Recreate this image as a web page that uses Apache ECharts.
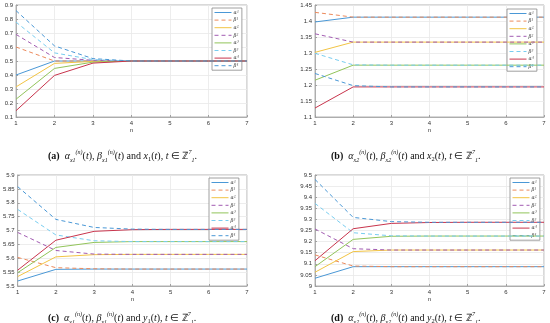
<!DOCTYPE html>
<html><head><meta charset="utf-8">
<script src="https://cdn.jsdelivr.net/npm/echarts@6/dist/echarts.min.js"></script>
<style>html,body{margin:0;padding:0;background:#fff}#c{width:550px;height:323px}</style>
</head><body><div id="c"></div>
<script>
const nVals = [1,2,3,4,5,6,7];
const legendNames = ['α¹','β¹','α²','β²','α³','β³','α⁴','β⁴'];

const aAlpha1 = [0.40,0.500,0.500,0.500,0.500,0.500,0.500];
const aBeta1  = [0.60,0.500,0.500,0.500,0.500,0.500,0.500];
const aAlpha2 = [0.315,0.483,0.497,0.500,0.500,0.500,0.500];
const aBeta2  = [0.69,0.525,0.505,0.500,0.500,0.500,0.500];
const aAlpha3 = [0.227,0.447,0.492,0.500,0.500,0.500,0.500];
const aBeta3  = [0.778,0.558,0.510,0.500,0.500,0.500,0.500];
const aAlpha4 = [0.145,0.397,0.485,0.500,0.500,0.500,0.500];
const aBeta4  = [0.86,0.608,0.517,0.500,0.500,0.500,0.500];

const bAlpha1 = [1.397,1.412,1.412,1.412,1.412,1.412,1.412];
const bBeta1  = [1.427,1.412,1.412,1.412,1.412,1.412,1.412];
const bAlpha2 = [1.302,1.334,1.334,1.334,1.334,1.334,1.334];
const bBeta2  = [1.360,1.334,1.334,1.334,1.334,1.334,1.334];
const bAlpha3 = [1.215,1.262,1.262,1.262,1.262,1.262,1.262];
const bBeta3  = [1.299,1.263,1.262,1.262,1.262,1.262,1.262];
const bAlpha4 = [1.128,1.194,1.194,1.194,1.194,1.194,1.194];
const bBeta4  = [1.236,1.198,1.194,1.194,1.194,1.194,1.194];

const cAlpha1 = [5.518,5.560,5.561,5.561,5.561,5.561,5.561];
const cBeta1  = [5.603,5.566,5.562,5.561,5.561,5.561,5.561];
const cAlpha2 = [5.534,5.605,5.613,5.614,5.614,5.614,5.614];
const cBeta2  = [5.693,5.628,5.615,5.614,5.614,5.614,5.614];
const cAlpha3 = [5.548,5.639,5.657,5.660,5.660,5.660,5.660];
const cBeta3  = [5.776,5.684,5.663,5.660,5.660,5.660,5.660];
const cAlpha4 = [5.557,5.665,5.697,5.703,5.704,5.704,5.704];
const cBeta4  = [5.858,5.740,5.711,5.705,5.704,5.704,5.704];

const dAlpha1 = [9.035,9.087,9.087,9.087,9.087,9.087,9.087];
const dBeta1  = [9.140,9.090,9.087,9.087,9.087,9.087,9.087];
const dAlpha2 = [9.062,9.155,9.162,9.162,9.162,9.162,9.162];
const dBeta2  = [9.257,9.168,9.162,9.162,9.162,9.162,9.162];
const dAlpha3 = [9.087,9.210,9.224,9.225,9.225,9.225,9.225];
const dBeta3  = [9.372,9.240,9.226,9.225,9.225,9.225,9.225];
const dAlpha4 = [9.114,9.258,9.282,9.286,9.287,9.287,9.287];
const dBeta4  = [9.480,9.309,9.290,9.287,9.287,9.287,9.287];

const yRanges = [[0.1,0.9,0.1],[1.1,1.45,0.05],[5.5,5.9,0.05],[9.0,9.5,0.05]];
const panels = [
  [aAlpha1,aBeta1,aAlpha2,aBeta2,aAlpha3,aBeta3,aAlpha4,aBeta4],
  [bAlpha1,bBeta1,bAlpha2,bBeta2,bAlpha3,bBeta3,bAlpha4,bBeta4],
  [cAlpha1,cBeta1,cAlpha2,cBeta2,cAlpha3,cBeta3,cAlpha4,cBeta4],
  [dAlpha1,dBeta1,dAlpha2,dBeta2,dAlpha3,dBeta3,dAlpha4,dBeta4]
];

const colors = ['#4a98d6','#ec8a5c','#f2c444','#a25cb2','#92c45a','#78cdf0','#c8344c','#4a98d6'];
const grids = [
  {left:16, top:5, width:231, height:112},
  {left:315, top:5, width:229, height:112},
  {left:16, top:175, width:231, height:111},
  {left:315, top:175, width:229, height:111}
];
const legendPos = [{left:212, top:8},{left:507, top:9},{left:209, top:178},{left:510, top:178}];

const font = 'Liberation Sans';
const option = {
  animation:false,
  grid: grids.map(g => Object.assign({show:true, borderColor:'#a0a0a0', borderWidth:0.8, backgroundColor:'#fff', containLabel:false}, g)),
  xAxis: grids.map((g,i) => ({
    type:'value', gridIndex:i, min:1, max:7, interval:1,
    name:'n', nameLocation:'middle', nameGap:8,
    nameTextStyle:{fontSize:6, color:'#333', fontFamily:font},
    axisLine:{show:true, lineStyle:{color:'#a0a0a0', width:0.8}},
    axisTick:{show:true, inside:true, length:2, lineStyle:{color:'#a0a0a0'}},
    axisLabel:{fontSize:6, color:'#333', margin:3, fontFamily:font},
    splitLine:{show:true, lineStyle:{color:'#e8e8e8', width:0.8}}
  })),
  yAxis: grids.map((g,i) => ({
    type:'value', gridIndex:i, min:yRanges[i][0], max:yRanges[i][1], interval:yRanges[i][2],
    axisLine:{show:true, lineStyle:{color:'#a0a0a0', width:0.8}},
    axisTick:{show:true, inside:true, length:2, lineStyle:{color:'#a0a0a0'}},
    axisLabel:{fontSize:6, color:'#333', margin:3, fontFamily:font,
      formatter: v => String(parseFloat(v.toFixed(2)))},
    splitLine:{show:true, lineStyle:{color:'#e8e8e8', width:0.8}}
  })),
  legend: legendPos.map(p => ({
    left:p.left, top:p.top, orient:'vertical', data:legendNames,
    itemWidth:17, itemHeight:4, itemGap:2.6, padding:[2,3,2,2],
    backgroundColor:'#fff', borderColor:'#888', borderWidth:0.8,
    itemStyle:{opacity:0},
    lineStyle:{width:1},
    textStyle:{fontSize:5, color:'#333', padding:[0,0,0,-3], fontFamily:'DejaVu Serif', fontStyle:'italic'},
    selectedMode:false
  })),
  series: []
};
panels.forEach((arrs, pi) => {
  arrs.forEach((arr, si) => {
    option.series.push({
      type:'line', name:legendNames[si], xAxisIndex:pi, yAxisIndex:pi,
      data: nVals.map((n,k) => [n, arr[k]]),
      symbol:'none', z: 2 + si,
      lineStyle:{color:colors[si], width:1, type: si%2===1 ? [4,3] : 'solid'},
      itemStyle:{color:colors[si]}
    });
  });
});

const serif = 'Liberation Serif';
function caption(letter, v, idx, left, top) {
  return {
    left:left, top:top,
    text: `{b|(${letter})} {m|α}{sub|${v}${idx}}{sup|(n)}{r|(}{m|t}{r|), }{m|β}{sub|${v}${idx}}{sup|(n)}{r|(}{m|t}{r|) and }{m|${v}}{si|${idx}}{r|(}{m|t}{r|), }{m|t}{r| ∈ ℤ}{sup|7}{sub|1}{r|.}`,
    textStyle:{
      fontWeight:'normal',
      rich:{
        b:{fontFamily:serif, fontWeight:'bold', fontSize:10, color:'#111', lineHeight:12, verticalAlign:'bottom', padding:[0,0,2,0]},
        m:{fontFamily:serif, fontStyle:'italic', fontWeight:'normal', fontSize:10, color:'#111', lineHeight:12, verticalAlign:'bottom', padding:[0,0,2,0]},
        r:{fontFamily:serif, fontWeight:'normal', fontSize:10, color:'#111', lineHeight:12, verticalAlign:'bottom', padding:[0,0,2,0]},
        si:{fontFamily:serif, fontWeight:'normal', fontSize:6.5, color:'#111', lineHeight:7, verticalAlign:'bottom', padding:[0,0,0.5,0]},
        sub:{fontFamily:serif, fontStyle:'italic', fontWeight:'normal', fontSize:6, color:'#111', lineHeight:6, verticalAlign:'bottom', padding:[0,0,0,0]},
        sup:{fontFamily:serif, fontStyle:'italic', fontWeight:'normal', fontSize:6, color:'#111', lineHeight:6, verticalAlign:'bottom', padding:[0,0,8,0]}
      }
    }
  };
}
option.title = [
  caption('a','x','1',43,140),
  caption('b','x','2',326,140),
  caption('c','y','1',43,302),
  caption('d','y','2',326,302)
];
const chart = echarts.init(document.getElementById('c'), null, {renderer:'canvas'});
chart.setOption(option);
</script></body></html>
